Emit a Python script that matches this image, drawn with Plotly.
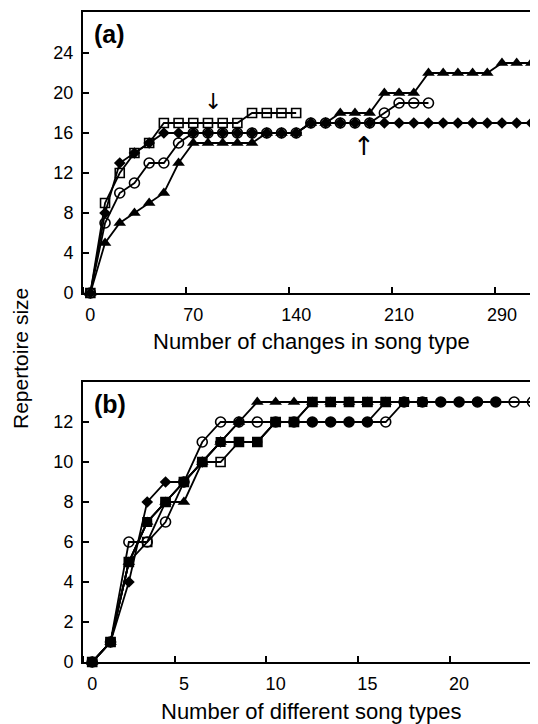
import plotly.graph_objects as go

# ---------------- Panel (a): repertoire vs number of changes in song type
X_A = [0, 10, 20, 30, 40, 50, 60, 70, 80, 90, 100, 110, 120, 130, 140, 150,
       160, 170, 180, 190, 200, 210, 220, 230, 240, 250, 260, 270, 280, 290, 300]
A_OPEN_SQUARE = [0, 9, 12, 14, 15, 17, 17, 17, 17, 17, 17, 18, 18, 18, 18]
A_DIAMOND = [0, 8, 13, 14, 15, 16, 16, 16, 16, 16, 16, 16, 16, 16, 16,
             17, 17, 17, 17, 17, 17, 17, 17, 17, 17, 17, 17, 17, 17, 17, 17]
A_OPEN_CIRCLE = [0, 7, 10, 11, 13, 13, 15, 16, 16, 16, 16, 16, 16, 16, 16,
                 17, 17, 17, 17, 17, 18, 19, 19, 19]
A_TRIANGLE = [0, 5, 7, 8, 9, 10, 13, 15, 15, 15, 15, 15, 16, 16, 16, 17, 17,
              18, 18, 18, 20, 20, 20, 22, 22, 22, 22, 22, 23, 23, 23]
A_TICKVALS = [0, 70, 140, 210, 280]
A_TICKTEXT = ["0", "70", "140", "210", "290"]
A_YTICKS = [0, 4, 8, 12, 16, 20, 24]

# ---------------- Panel (b): repertoire vs number of different song types
X_B = [0, 1, 2, 3, 4, 5, 6, 7, 8, 9, 10, 11, 12, 13, 14, 15, 16, 17, 18, 19,
       20, 21, 22, 23, 24]
B_DIAMOND = [0, 1, 4, 8, 9, 9, 10, 11, 12]
B_TRIANGLE = [0, 1, 5, 7, 8, 8, 10, 11, 12, 13, 13, 13, 13, 13, 13, 13, 13]
B_OPEN_SQUARE = [0, 1, 5, 6, 8, 9, 10, 10, 11, 11, 12, 12, 13, 13, 13, 13, 13]
B_FILLED_SQUARE = [0, 1, 5, 7, 8, 9, 10, 11, 11, 11, 12, 12, 13, 13, 13, 13,
                   13, 13, 13]
B_FILLED_CIRCLE = [0, 1, 5, 7, 8, 9, 10, 11, 11, 11, 12, 12, 12, 12, 12, 12,
                   13, 13, 13, 13, 13, 13, 13]
B_OPEN_CIRCLE = [0, 1, 6, 6, 7, 9, 11, 12, 12, 12, 12, 12, 12, 12, 12, 12,
                 12, 13, 13, 13, 13, 13, 13, 13, 13]
B_TICKVALS = [0, 5, 10, 15, 20]
B_TICKTEXT = ["0", "5", "10", "15", "20"]
B_YTICKS = [0, 2, 4, 6, 8, 10, 12]

FONT = "Liberation Sans, Arial, Helvetica, sans-serif"
BLACK = "#000000"

fig = go.Figure()


def add(xs, ys, symbol, size, xa, ya, open_=False):
    n = len(ys)
    fig.add_trace(go.Scatter(
        x=xs[:n], y=ys, mode="lines+markers", xaxis=xa, yaxis=ya,
        line=dict(color=BLACK, width=1.8),
        marker=dict(symbol=symbol, size=size, color=BLACK,
                    line=dict(color=BLACK, width=1.6 if open_ else 0)),
        cliponaxis=False, showlegend=False, hoverinfo="skip"))


# panel (a) - draw order bottom to top
add(X_A, A_OPEN_CIRCLE, "circle-open", 10, "x", "y", True)
add(X_A, A_TRIANGLE, "triangle-up", 11, "x", "y")
add(X_A, A_DIAMOND, "diamond", 9, "x", "y")
add(X_A, A_OPEN_SQUARE, "square-open", 9, "x", "y", True)

# panel (b)
add(X_B, B_OPEN_CIRCLE, "circle-open", 10, "x2", "y2", True)
add(X_B, B_FILLED_CIRCLE, "circle", 10, "x2", "y2")
add(X_B, B_DIAMOND, "diamond", 9, "x2", "y2")
add(X_B, B_FILLED_SQUARE, "square", 10, "x2", "y2")
add(X_B, B_TRIANGLE, "triangle-up", 11, "x2", "y2")
add(X_B, B_OPEN_SQUARE, "square-open", 9, "x2", "y2", True)

# the page body has an 8px margin: figure is sized to end at the window edge
W, H = 530, 716
L, TOP, BOT = 75, 4, 62
PH = H - TOP - BOT  # 650


def pfrac(py):  # page pixel y -> paper fraction
    return (662 - py) / PH


def px2paper_x(px):  # page pixel x -> paper fraction
    return (px - 83) / (W - L)


axis_common = dict(showline=True, linecolor=BLACK, linewidth=2,
                   showgrid=False, zeroline=False,
                   tickfont=dict(family=FONT, size=18, color=BLACK))

fig.update_layout(
    width=W, height=H,
    margin=dict(l=L, r=0, t=TOP, b=BOT),
    paper_bgcolor="white", plot_bgcolor="white",
    xaxis=dict(domain=[0, 1], anchor="y", range=[-5, 304.5],
               tickmode="array", tickvals=A_TICKVALS, ticktext=A_TICKTEXT,
               ticks="", mirror=True, ticklabelstandoff=4,
               minor=dict(tickmode="linear", tick0=-5, dtick=70,
                          ticks="inside", ticklen=6, tickwidth=2,
                          tickcolor=BLACK, showgrid=False),
               **axis_common),
    yaxis=dict(domain=[pfrac(293), 1], anchor="x", range=[0, 28.1],
               tickmode="array", tickvals=A_YTICKS,
               ticks="inside", ticklen=6, tickwidth=2, tickcolor=BLACK,
               ticklabelstandoff=4, **axis_common),
    xaxis2=dict(domain=[0, 1], anchor="y2", range=[-0.5, 24.3],
                tickmode="array", tickvals=B_TICKVALS, ticktext=B_TICKTEXT,
                ticks="", mirror=True, ticklabelstandoff=4,
                minor=dict(tickmode="linear", tick0=-0.5, dtick=5,
                           ticks="inside", ticklen=6, tickwidth=2,
                           tickcolor=BLACK, showgrid=False),
                **axis_common),
    yaxis2=dict(domain=[0, pfrac(382)], anchor="x2", range=[0, 14.0],
                tickmode="array", tickvals=B_YTICKS,
                ticks="inside", ticklen=6, tickwidth=2, tickcolor=BLACK,
                ticklabelstandoff=4, **axis_common),
)

ann = [
    dict(text="<b>(a)</b>", xref="paper", yref="paper",
         x=px2paper_x(92), y=pfrac(34), xanchor="left", yanchor="middle",
         showarrow=False, font=dict(family=FONT, size=25, color=BLACK)),
    dict(text="<b>(b)</b>", xref="paper", yref="paper",
         x=px2paper_x(92), y=pfrac(404), xanchor="left", yanchor="middle",
         showarrow=False, font=dict(family=FONT, size=25, color=BLACK)),
    dict(text="Number of changes in song type", xref="paper", yref="paper",
         x=px2paper_x(311), y=pfrac(341), xanchor="center", yanchor="middle",
         showarrow=False, font=dict(family=FONT, size=22, color=BLACK)),
    dict(text="Number of different song types", xref="paper", yref="paper",
         x=px2paper_x(311), y=pfrac(711), xanchor="center", yanchor="middle",
         showarrow=False, font=dict(family=FONT, size=22, color=BLACK)),
    dict(text="Repertoire size", xref="paper", yref="paper",
         x=px2paper_x(20), y=pfrac(359), xanchor="center", yanchor="middle",
         textangle=-90, showarrow=False,
         font=dict(family=FONT, size=21, color=BLACK)),
    dict(text="↓", xref="x", yref="y", x=83.6, y=19.2,
         xanchor="center", yanchor="middle", showarrow=False,
         font=dict(family="DejaVu Sans", size=22, color=BLACK)),
    dict(text="↑", xref="x", yref="y", x=186.2, y=14.7,
         xanchor="center", yanchor="middle", showarrow=False,
         font=dict(family="DejaVu Sans", size=26, color=BLACK)),
]
fig.update_layout(annotations=ann)

fig.write_html("out.html")
